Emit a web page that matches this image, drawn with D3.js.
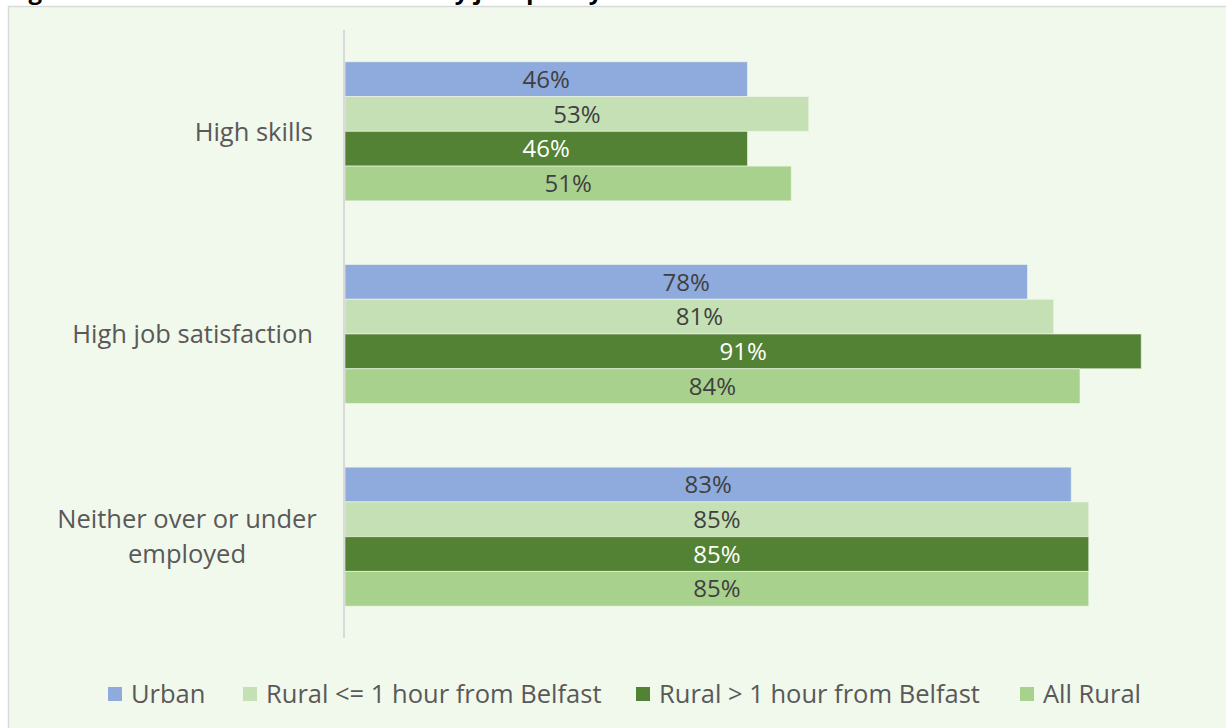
<html>
<head>
<script src="https://cdn.jsdelivr.net/npm/d3@7"></script>
<style>
  body { margin: 0; background: #ffffff; }
  text { font-family: "Open Sans", sans-serif; }
</style>
</head>
<body>
<div id="chartContainer"></div>
<script>
// chart data
var categories = ["High skills", "High job satisfaction", "Neither over or under employed"];
var seriesNames = ["Urban", "Rural <= 1 hour from Belfast", "Rural > 1 hour from Belfast", "All Rural"];
var urban = [0.46, 0.78, 0.83];
var ruralNear = [0.53, 0.81, 0.85];
var ruralFar = [0.46, 0.91, 0.85];
var allRural = [0.51, 0.84, 0.85];
var seriesColors = ["#8faadc", "#c5e0b4", "#548235", "#a9d18e"];
var labelColors = ["#404040", "#404040", "#ffffff", "#404040"];

var values = [urban, ruralNear, ruralFar, allRural];

var W = 1226, H = 728;
var svg = d3.select("#chartContainer").append("svg")
  .attr("width", W).attr("height", H);

// title, mostly cut off above the picture
svg.append("text")
  .attr("x", 8).attr("y", -1)
  .style("font-size", "24px").style("font-weight", "bold").style("fill", "#000")
  .text("Figure 12: Labour market outcomes by job quality");

// chart area box
svg.append("rect")
  .attr("x", 8.5).attr("y", 6.5)
  .attr("width", W + 10).attr("height", H + 10)
  .style("fill", "#f1f8ec").style("stroke", "#d9d9d9").style("stroke-width", 1.5);

var x = d3.scaleLinear().domain([0, 1]).range([345, 1220]);
var y = d3.scaleBand().domain(categories).range([30, 638])
  .paddingInner(0.314).paddingOuter(0.157);
var ySub = d3.scaleBand().domain(d3.range(seriesNames.length)).range([0, y.bandwidth()]);

// bars
var groups = svg.selectAll("g.cat")
  .data(categories).enter().append("g")
  .attr("class", "cat")
  .attr("transform", function(d) { return "translate(0," + y(d) + ")"; });

groups.each(function(cat, ci) {
  var g = d3.select(this);
  seriesNames.forEach(function(s, si) {
    var v = values[si][ci];
    g.append("rect")
      .attr("x", x(0)).attr("y", ySub(si))
      .attr("width", x(v) - x(0)).attr("height", ySub.bandwidth())
      .style("fill", seriesColors[si])
      .style("stroke", "#f1f8ec").style("stroke-opacity", 0.6).style("stroke-width", 1);
    g.append("text")
      .attr("x", (x(0) + x(v)) / 2)
      .attr("y", ySub(si) + ySub.bandwidth() / 2)
      .attr("dy", "0.36em")
      .attr("text-anchor", "middle")
      .style("font-size", "24px").style("fill", labelColors[si])
      .text(Math.round(v * 100) + "%");
  });
});

// category axis
svg.append("line")
  .attr("x1", 344).attr("x2", 344).attr("y1", 30).attr("y2", 638)
  .style("stroke", "#d9d9d9").style("stroke-width", 2);

// single lines are right aligned, wrapped ones centred (as Excel does)
var catLines = {
  "High skills": ["High skills"],
  "High job satisfaction": ["High job satisfaction"],
  "Neither over or under employed": ["Neither over or under", "employed"]
};
categories.forEach(function(c) {
  var lines = catLines[c];
  var cy = y(c) + y.bandwidth() / 2;
  var wrapped = lines.length > 1;
  var t = svg.append("text")
    .attr("text-anchor", wrapped ? "middle" : "end")
    .style("font-size", "25.5px").style("fill", "#595959");
  lines.forEach(function(l, i) {
    t.append("tspan")
      .attr("x", wrapped ? 187 : 313)
      .attr("y", cy + (i - (lines.length - 1) / 2) * 35)
      .attr("dy", "0.36em")
      .text(l);
  });
});

// legend
var legendX = [108, 243, 636, 1020];
var legend = svg.selectAll("g.legend")
  .data(seriesNames).enter().append("g")
  .attr("class", "legend")
  .attr("transform", function(d, i) { return "translate(" + legendX[i] + ",687)"; });
legend.append("rect")
  .attr("width", 14).attr("height", 14)
  .style("fill", function(d, i) { return seriesColors[i]; });
legend.append("text")
  .attr("x", 23).attr("y", 7).attr("dy", "0.36em")
  .style("font-size", "25.5px").style("fill", "#595959")
  .text(function(d) { return d; });
</script>
</body>
</html>
